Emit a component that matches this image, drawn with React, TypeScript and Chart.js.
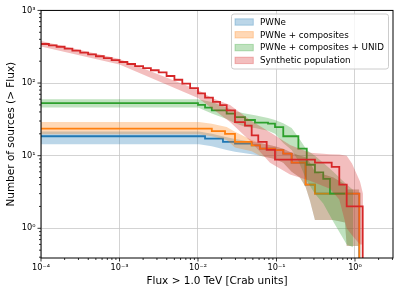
import React, { useEffect, useRef } from "react";
import { Chart, registerables } from "chart.js";
Chart.register(...registerables);

// value standing for "zero sources" (below the log axis)
const ZERO = 1e-3;

// PWNe
const pwneFlux = [0.0001, 0.0123, 0.0208, 0.0296, 0.0483, 0.0616, 0.0957, 0.122, 0.156, 0.235, 0.309, 1.135];
const pwneCount = [18.5, 17.2, 15.5, 14.7, 13.9, 12.5, 11.9, 10.7, 8, 4, 3, ZERO];
const pwneBandFlux = [0.0001, 0.0103, 0.015, 0.0232, 0.0296, 0.0483, 0.0616, 0.0957, 0.122, 0.156, 0.199, 0.235, 0.267, 0.309, 0.53, 0.746, 0.784, 1.135];
const pwneBandLow = [14.4, 14.4, 13.5, 12, 11.3, 10.5, 10, 9, 8, 6, 5, 3.7, 2.4, 1.3, 1.3, 1.2, 0.57, 0.57];
const pwneBandHigh = [21.5, 21.5, 20, 18, 17, 15.5, 15, 13.5, 12.5, 11, 10, 9.5, 8, 6, 5, 4, 3.43, 3.43];

// PWNe + composites
const compFlux = [0.0001, 0.015, 0.0221, 0.0296, 0.0483, 0.0616, 0.0957, 0.122, 0.156, 0.235, 0.309, 1.135];
const compCount = [23.6, 21.8, 20, 15.5, 13.9, 12.5, 11.9, 10.7, 8, 4, 3, ZERO];
const compBandFlux = [0.0001, 0.0103, 0.015, 0.0232, 0.0296, 0.0483, 0.0616, 0.0957, 0.122, 0.156, 0.199, 0.235, 0.267, 0.309, 0.53, 0.746, 0.784, 1.135];
const compBandLow = [19.8, 19.8, 18.5, 16.5, 13, 11.5, 10, 9, 8, 6, 5, 3.7, 2.4, 1.3, 1.3, 1.2, 0.57, 0.57];
const compBandHigh = [29, 29, 27.6, 24.8, 21.3, 16.4, 15, 13.5, 12.5, 11, 10, 9.5, 8, 6, 5, 4, 3.43, 3.43];

// PWNe + composites + UNID
const unidFlux = [0.0001, 0.01, 0.0123, 0.015, 0.0232, 0.0296, 0.0397, 0.0532, 0.078, 0.0957, 0.122, 0.19, 0.243, 0.309, 0.394, 0.48, 0.746];
const unidCount = [53, 50, 46, 42, 38, 34, 31, 28.5, 27.6, 24.8, 18.5, 12.5, 7.5, 5.9, 4.8, 3, 3];
const unidBandFlux = [0.0001, 0.01, 0.015, 0.0232, 0.0296, 0.0397, 0.0532, 0.078, 0.0957, 0.122, 0.156, 0.19, 0.243, 0.309, 0.394, 0.53, 0.784, 0.943];
const unidBandLow = [46, 46, 38, 32, 28, 25, 24, 22, 20, 15, 12, 8.5, 4.5, 3, 2.2, 1.23, 0.6, 0.55];
const unidBandHigh = [60, 60, 55, 46, 41, 38, 36, 33, 31, 28, 24, 18, 12, 10, 8, 6, 4, 3.4];

// Synthetic population
const synthFlux = [0.0001, 0.000126, 0.000158, 0.0002, 0.000251, 0.000316, 0.000398, 0.000501, 0.000631, 0.000794, 0.001, 0.00126, 0.00158, 0.002, 0.00251, 0.00316, 0.00398, 0.00501, 0.00631, 0.00794, 0.01, 0.0123, 0.0155, 0.0191, 0.0232, 0.0296, 0.0397, 0.0483, 0.0586, 0.075, 0.0957, 0.309, 0.505, 0.631, 0.784, 1.254];
const synthCount = [345, 330, 316, 298, 280, 262, 248, 234, 220, 207, 195, 183, 171, 161, 150, 140, 125, 111, 98, 85, 72, 63, 55, 49.6, 42, 29, 26, 19, 15.5, 12, 8.8, 8, 7, 4, 2, ZERO];
const synthBandFlux = [0.0001, 0.001, 0.01, 0.015, 0.0256, 0.0459, 0.0827, 0.149, 0.267, 0.48, 0.631, 0.784, 0.916, 1.158, 1.264];
const synthBandLow = [318, 180, 62, 45, 29, 16, 8, 5.5, 4.5, 3.5, 2.5, 1.0, 0.8, 0.6, 0.6];
const synthBandHigh = [378, 215, 80, 62, 50, 31, 21, 14, 11, 10.5, 10.4, 10, 7.8, 4.4, 3];

const xMajorTicks = [1e-4, 1e-3, 1e-2, 1e-1, 1];
const xTickLabels = ["10⁻⁴", "10⁻³", "10⁻²", "10⁻¹", "10⁰"];
const yMajorTicks = [1, 10, 100, 1000];
const yTickLabels = ["10⁰", "10¹", "10²", "10³"];
const legendLabels = ["PWNe", "PWNe + composites", "PWNe + composites + UNID", "Synthetic population"];
const xTitle = "Flux > 1.0 TeV [Crab units]";
const yTitle = "Number of sources (> Flux)";

const COLORS = ["31,119,180", "255,127,14", "44,160,44", "214,39,40"];
const FONT = '"DejaVu Sans", sans-serif';
const X_MIN = 1e-4, X_MAX = 3.05, Y_MIN = 0.39, Y_MAX = 1000;

function minorTicks(min: number, max: number) {
  const out: number[] = [];
  for (let e = Math.floor(Math.log10(min)); e <= Math.ceil(Math.log10(max)); e++) {
    for (let m = 2; m <= 9; m++) {
      const v = m * Math.pow(10, e);
      if (v >= min * 0.999 && v <= max * 1.001) out.push(v);
    }
  }
  return out;
}

const pts = (xs: number[], ys: number[]) => xs.map((x, i) => ({ x, y: ys[i] }));

const decorPlugin = {
  id: "decor",
  afterDraw(chart: any) {
    const { ctx, chartArea: a } = chart;
    const xs = chart.scales.x, ys = chart.scales.y;
    ctx.save();
    ctx.strokeStyle = "#000";
    ctx.lineWidth = 0.8;
    ctx.beginPath();
    for (const v of xMajorTicks) {
      const p = xs.getPixelForValue(v);
      ctx.moveTo(p, a.bottom); ctx.lineTo(p, a.bottom + 3.5);
    }
    for (const v of minorTicks(X_MIN, X_MAX)) {
      const p = xs.getPixelForValue(v);
      ctx.moveTo(p, a.bottom); ctx.lineTo(p, a.bottom + 2);
    }
    for (const v of yMajorTicks) {
      const p = ys.getPixelForValue(v);
      ctx.moveTo(a.left, p); ctx.lineTo(a.left - 3.5, p);
    }
    for (const v of minorTicks(Y_MIN, Y_MAX)) {
      const p = ys.getPixelForValue(v);
      ctx.moveTo(a.left, p); ctx.lineTo(a.left - 2, p);
    }
    ctx.stroke();
    ctx.lineWidth = 1;
    ctx.strokeRect(a.left, a.top, a.right - a.left, a.bottom - a.top);

    // legend
    const bx = 231.5, by = 14, bw = 157, bh = 55, r = 2.5;
    ctx.beginPath();
    ctx.moveTo(bx + r, by);
    ctx.lineTo(bx + bw - r, by);
    ctx.quadraticCurveTo(bx + bw, by, bx + bw, by + r);
    ctx.lineTo(bx + bw, by + bh - r);
    ctx.quadraticCurveTo(bx + bw, by + bh, bx + bw - r, by + bh);
    ctx.lineTo(bx + r, by + bh);
    ctx.quadraticCurveTo(bx, by + bh, bx, by + bh - r);
    ctx.lineTo(bx, by + r);
    ctx.quadraticCurveTo(bx, by, bx + r, by);
    ctx.closePath();
    ctx.fillStyle = "rgba(255,255,255,0.8)";
    ctx.fill();
    ctx.strokeStyle = "#cccccc";
    ctx.lineWidth = 1;
    ctx.stroke();
    ctx.font = `8.75px ${FONT}`;
    ctx.textBaseline = "middle";
    ctx.textAlign = "left";
    legendLabels.forEach((lab, i) => {
      const cy = 22 + i * 12.8;
      ctx.fillStyle = `rgba(${COLORS[i]},0.3)`;
      ctx.fillRect(235, cy - 3.2, 18.3, 6.4);
      ctx.strokeStyle = `rgba(${COLORS[i]},0.3)`;
      ctx.strokeRect(235, cy - 3.2, 18.3, 6.4);
      ctx.fillStyle = "#000";
      ctx.fillText(lab, 260, cy + 0.5);
    });
    ctx.restore();
  },
};

export default function App() {
  const ref = useRef<HTMLCanvasElement>(null);
  useEffect(() => {
    const canvas = ref.current!;
    const series = [
      { flux: pwneFlux, count: pwneCount, bf: pwneBandFlux, lo: pwneBandLow, hi: pwneBandHigh },
      { flux: compFlux, count: compCount, bf: compBandFlux, lo: compBandLow, hi: compBandHigh },
      { flux: unidFlux, count: unidCount, bf: unidBandFlux, lo: unidBandLow, hi: unidBandHigh },
      { flux: synthFlux, count: synthCount, bf: synthBandFlux, lo: synthBandLow, hi: synthBandHigh },
    ];
    const datasets: any[] = [];
    series.forEach((s, i) => {
      datasets.push({
        label: legendLabels[i] + " low",
        data: pts(s.bf, s.lo),
        borderWidth: 0,
        pointRadius: 0,
        fill: false,
        borderColor: "transparent",
      });
      datasets.push({
        label: legendLabels[i],
        data: pts(s.bf, s.hi),
        borderWidth: 0,
        pointRadius: 0,
        fill: "-1",
        borderColor: "transparent",
        backgroundColor: `rgba(${COLORS[i]},0.3)`,
      });
      datasets.push({
        label: legendLabels[i] + " line",
        data: pts(s.flux, s.count),
        borderWidth: 1.8,
        pointRadius: 0,
        fill: false,
        stepped: "before",
        borderColor: `rgb(${COLORS[i]})`,
      });
    });
    datasets.forEach((d, i) => (d.order = datasets.length - i));

    const chart = new Chart(canvas, {
      type: "line",
      data: { datasets },
      plugins: [decorPlugin],
      options: {
        responsive: false,
        animation: false,
        layout: { padding: { top: 10, right: 6, left: 0, bottom: 0 } },
        plugins: { legend: { display: false }, tooltip: { enabled: false } },
        elements: { line: { tension: 0 } },
        scales: {
          x: {
            type: "logarithmic",
            min: X_MIN,
            max: X_MAX,
            afterBuildTicks: (sc: any) => { sc.ticks = xMajorTicks.map((v) => ({ value: v })); },
            afterFit: (sc: any) => { sc.height = 36; },
            grid: { color: "#c8c8c8", lineWidth: 0.8, drawTicks: false },
            border: { display: false },
            ticks: {
              autoSkip: false,
              maxRotation: 0,
              minRotation: 0,
              padding: 5,
              color: "#000",
              font: { family: FONT, size: 8.2 },
              callback: (v: any) => {
                const i = xMajorTicks.findIndex((t) => Math.abs(Math.log10(t) - Math.log10(v)) < 1e-6);
                return i >= 0 ? xTickLabels[i] : "";
              },
            },
            title: {
              display: true,
              text: xTitle,
              color: "#000",
              font: { family: FONT, size: 10.5 },
              padding: { top: 0, bottom: 6 },
            },
          },
          y: {
            type: "logarithmic",
            min: Y_MIN,
            max: Y_MAX,
            afterBuildTicks: (sc: any) => { sc.ticks = yMajorTicks.map((v) => ({ value: v })); },
            afterFit: (sc: any) => { sc.width = 41; },
            grid: { color: "#c8c8c8", lineWidth: 0.8, drawTicks: false },
            border: { display: false },
            ticks: {
              autoSkip: false,
              padding: 5.5,
              color: "#000",
              font: { family: FONT, size: 8.2 },
              callback: (v: any) => {
                const i = yMajorTicks.findIndex((t) => Math.abs(Math.log10(t) - Math.log10(v)) < 1e-6);
                return i >= 0 ? yTickLabels[i] : "";
              },
            },
            title: {
              display: true,
              text: yTitle,
              color: "#000",
              font: { family: FONT, size: 10.5 },
              padding: { top: 4.5, bottom: 0 },
            },
          },
        },
      },
    } as any);
    return () => chart.destroy();
  }, []);
  return (
    <div style={{ position: "fixed", left: 0, top: 0, width: 399, height: 294, background: "#fff" }}>
      <canvas ref={ref} width={399} height={294} style={{ display: "block" }} />
    </div>
  );
}
